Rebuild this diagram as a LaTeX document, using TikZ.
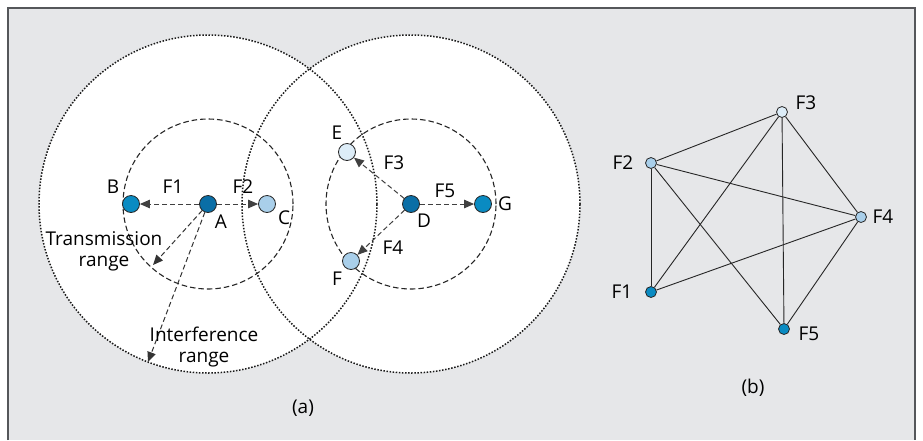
\documentclass[tikz,border=0pt]{standalone}
\usepackage{fontspec}
\setmainfont{Open Sans}
\usetikzlibrary{arrows.meta}
\definecolor{bg}{HTML}{E6E7E9}
\definecolor{dkblue}{HTML}{0A6EA6}
\definecolor{mdblue}{HTML}{0A8BC2}
\definecolor{ltblue}{HTML}{A9CFEA}
\definecolor{vlblue}{HTML}{DDEDF8}
\definecolor{framec}{HTML}{55575A}
\begin{document}
\begin{tikzpicture}[x=1pt,y=-1pt,
  font=\fontsize{19}{21}\selectfont,
  station/.style={circle,draw=black!85,line width=0.8pt,minimum size=17pt,inner sep=0pt},
  gnode/.style={circle,draw=black!85,line width=0.8pt,minimum size=11pt,inner sep=0pt},
  flow/.style={draw=black!75,line width=1pt,dash pattern=on 5pt off 3pt,-{Triangle[length=10pt,width=8.5pt]}},
  rangearrow/.style={draw=black!80,line width=1pt,dash pattern=on 5pt off 3pt,-{Triangle[length=10pt,width=8.5pt]}},
  txrange/.style={draw=black!85,line width=1.1pt,dash pattern=on 5.5pt off 3pt},
  ifrange/.style={draw=black!90,line width=1.5pt,dash pattern=on 1.5pt off 1.6pt},
  edge/.style={draw=black!85,line width=0.9pt},
  lbl/.style={inner sep=1pt}]
\useasboundingbox (0,0) rectangle (923,440);
\fill[bg] (8,8) rectangle (915,440);
\fill[white] (208,204) circle[radius=169pt] (411,204) circle[radius=169pt];
\draw[framec,line width=1.2pt] (8,440) -- (8,8) -- (915,8) -- (915,440);
% interference ranges
\draw[ifrange] (208,204) circle[radius=169pt];
\draw[ifrange] (411,204) circle[radius=169pt];
% transmission ranges
\draw[txrange] (208,204) circle[radius=85pt];
\draw[txrange] (411,204) circle[radius=85pt];
% stations
\node[station,fill=dkblue] (A) at (208,204) {};
\node[station,fill=mdblue] (B) at (131,204) {};
\node[station,fill=ltblue] (C) at (267,204) {};
\node[station,fill=dkblue] (D) at (411,204) {};
\node[station,fill=mdblue] (G) at (483,204) {};
\node[station,fill=vlblue] (E) at (347,152) {};
\node[station,fill=ltblue] (F) at (351,261) {};
\coordinate (T) at (153,265);
\coordinate (I) at (148,362);
% flows
\draw[flow] (A) -- (B);
\draw[flow] (A) -- (C);
\draw[flow] (D) -- (E);
\draw[flow] (D) -- (F);
\draw[flow] (D) -- (G);
\draw[rangearrow] (A) -- (T);
\draw[rangearrow] (A) -- (I);
% labels
\node[lbl] (lB) at (113,187) {B};
\node[lbl] (lF1) at (173,187) {F1};
\node[lbl] (lF2) at (243,187) {F2};
\node[lbl] (lA) at (221,222) {A};
\node[lbl] (lC) at (284,218) {C};
\node[lbl] (lE) at (337,133) {E};
\node[lbl] (lF3) at (394,163) {F3};
\node[lbl] (lF5) at (445,191) {F5};
\node[lbl] (lG) at (505,204) {G};
\node[lbl] (lD) at (424,221) {D};
\node[lbl] (lF4) at (393,248) {F4};
\node[lbl] (lF) at (337,279) {F};
\node[lbl,align=center] (ltx) at (104,251) {Transmission\\range};
\node[lbl,align=center] (lif) at (204,347) {Interference\\range};
\node[lbl] (la) at (303,408) {(a)};
% conflict graph
\node[gnode,fill=vlblue] (G3) at (782,112) {};
\node[gnode,fill=ltblue] (G2) at (651,163) {};
\node[gnode,fill=ltblue] (G4) at (861,217) {};
\node[gnode,fill=mdblue] (G1) at (651,292) {};
\node[gnode,fill=mdblue] (G5) at (784,329) {};
\draw[edge] (G2) -- (G3);
\draw[edge] (G2) -- (G4);
\draw[edge] (G2) -- (G1);
\draw[edge] (G2) -- (G5);
\draw[edge] (G3) -- (G1);
\draw[edge] (G3) -- (G5);
\draw[edge] (G3) -- (G4);
\draw[edge] (G4) -- (G1);
\draw[edge] (G4) -- (G5);
\node[lbl] (lG3) at (806,103) {F3};
\node[lbl] (lG2) at (623,163) {F2};
\node[lbl] (lG4) at (883,217) {F4};
\node[lbl] (lG1) at (622,292) {F1};
\node[lbl] (lG5) at (809,334) {F5};
\node[lbl] (lb) at (753,388) {(b)};
\end{tikzpicture}
\end{document}
